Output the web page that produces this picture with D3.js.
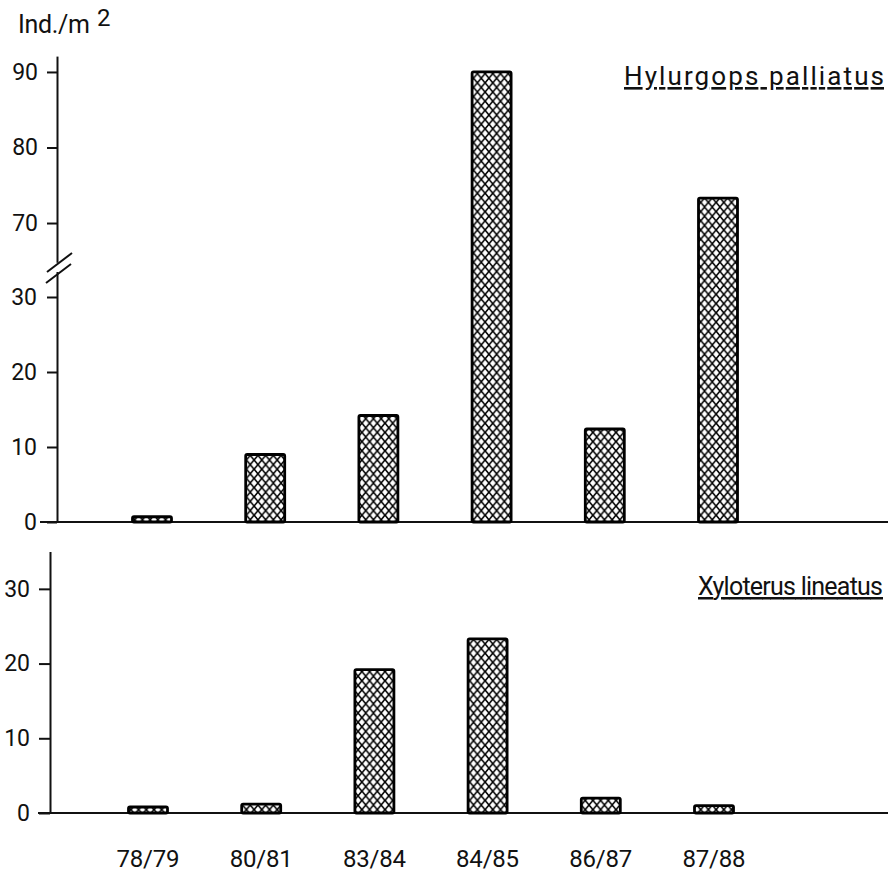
<!DOCTYPE html>
<html>
<head>
<meta charset="utf-8">
<script src="https://cdn.jsdelivr.net/npm/d3@7"></script>
<style>
  body { margin: 0; background: #fff; }
  text { font-family: Roboto, "DejaVu Sans", sans-serif; fill: #111; }
</style>
</head>
<body>
<div id="chart"></div>
<script>
const dims = { height: 873, width: 893 };

// data
const categories = ['78/79', '80/81', '83/84', '84/85', '86/87', '87/88'];
const hylurgops = [0.7, 9.0, 14.2, 90, 12.4, 73.3];
const xyloterus = [0.8, 1.2, 19.2, 23.3, 2.0, 1.0];
const lowTicks = [0, 10, 20, 30];
const highTicks = [70, 80, 90];

const svg = d3.select('#chart')
    .append('svg')
    .attr('width', dims.width)
    .attr('height', dims.height);

// crosshatch fill
const pat = svg.append('defs').append('pattern')
    .attr('id', 'hatch')
    .attr('patternUnits', 'userSpaceOnUse')
    .attr('width', 7.7)
    .attr('height', 9.2);
pat.append('rect').attr('width', 7.7).attr('height', 9.2).attr('fill', '#fff');
pat.append('path')
    .attr('d', 'M0,0L7.7,9.2M7.7,0L0,9.2')
    .attr('stroke', '#000')
    .attr('stroke-width', 1.6);

// scales
const xTop = d3.scalePoint().domain(categories).range([152, 718]);
const xBot = d3.scalePoint().domain(categories).range([148, 714]);
const barW = 39;

const yLow = d3.scaleLinear().domain([0, 33.4]).range([522, 271.5]);
const yHigh = d3.scaleLinear().domain([64.8, 92.1]).range([262.3, 56.1]);
const yBot = d3.scaleLinear().domain([0, 35]).range([813, 551.5]);

const styleAxis = (g, size) => {
    g.attr('font-family', 'Roboto, "DejaVu Sans", sans-serif')
        .attr('font-size', size);
    g.select('.domain').attr('stroke-width', 2).attr('stroke', '#111');
    g.selectAll('.tick line').attr('stroke-width', 2).attr('stroke', '#111');
    g.selectAll('.tick text').attr('fill', '#111');
};

// top panel
const topAxisX = 57;

svg.append('line')
    .attr('x1', 40).attr('x2', 888)
    .attr('y1', yLow(0)).attr('y2', yLow(0))
    .attr('stroke', '#111').attr('stroke-width', 2);

svg.append('g')
    .attr('transform', `translate(${topAxisX},0)`)
    .call(d3.axisLeft(yLow).tickValues(lowTicks).tickSize(10).tickPadding(10).tickSizeOuter(0))
    .call(g => styleAxis(g, 23));

svg.append('g')
    .attr('transform', `translate(${topAxisX},0)`)
    .call(d3.axisLeft(yHigh).tickValues(highTicks).tickSize(10).tickPadding(9).tickSizeOuter(0))
    .call(g => styleAxis(g, 23));

// axis break marks
svg.append('path')
    .attr('d', 'M47,272L72,253M46,283L71,264')
    .attr('stroke', '#111')
    .attr('stroke-width', 2)
    .attr('fill', 'none');

svg.append('g').selectAll('rect')
    .data(hylurgops)
    .enter()
    .append('rect')
    .attr('x', (d, i) => xTop(categories[i]) - barW / 2)
    .attr('width', barW)
    .attr('y', d => d > 30 ? yHigh(d) : yLow(d))
    .attr('height', d => yLow(0) - (d > 30 ? yHigh(d) : yLow(d)))
    .attr('rx', 1.5)
    .attr('fill', 'url(#hatch)')
    .attr('stroke', '#000')
    .attr('stroke-width', 2.8);

// bottom panel
const botAxisX = 50;

svg.append('line')
    .attr('x1', 38).attr('x2', 888)
    .attr('y1', yBot(0)).attr('y2', yBot(0))
    .attr('stroke', '#111').attr('stroke-width', 2);

svg.append('g')
    .attr('transform', `translate(${botAxisX},0)`)
    .call(d3.axisLeft(yBot).tickValues(lowTicks).tickSize(11).tickPadding(9).tickSizeOuter(0))
    .call(g => styleAxis(g, 23));

svg.append('g').selectAll('rect')
    .data(xyloterus)
    .enter()
    .append('rect')
    .attr('x', (d, i) => xBot(categories[i]) - barW / 2)
    .attr('width', barW)
    .attr('y', d => yBot(d))
    .attr('height', d => yBot(0) - yBot(d))
    .attr('rx', 1.5)
    .attr('fill', 'url(#hatch)')
    .attr('stroke', '#000')
    .attr('stroke-width', 2.8);

// category labels
svg.append('g').selectAll('text')
    .data(categories)
    .enter()
    .append('text')
    .attr('x', d => xBot(d))
    .attr('y', 867)
    .attr('text-anchor', 'middle')
    .attr('font-size', 24)
    .attr('textLength', 63)
    .attr('lengthAdjust', 'spacing')
    .text(d => d);

// species titles
svg.append('text')
    .attr('x', 624).attr('y', 85)
    .attr('font-size', 26)
    .attr('textLength', 260)
    .attr('lengthAdjust', 'spacing')
    .style('text-decoration', 'underline')
    .text('Hylurgops palliatus');

svg.append('text')
    .attr('x', 698).attr('y', 595)
    .attr('font-size', 25)
    .attr('textLength', 185)
    .attr('lengthAdjust', 'spacing')
    .style('text-decoration', 'underline')
    .text('Xyloterus lineatus');

// unit label
svg.append('text')
    .attr('x', 18).attr('y', 33)
    .attr('font-size', 25)
    .attr('textLength', 72)
    .attr('lengthAdjust', 'spacing')
    .text('Ind./m');

svg.append('text')
    .attr('x', 97).attr('y', 26)
    .attr('font-size', 24)
    .text('2');
</script>
</body>
</html>
